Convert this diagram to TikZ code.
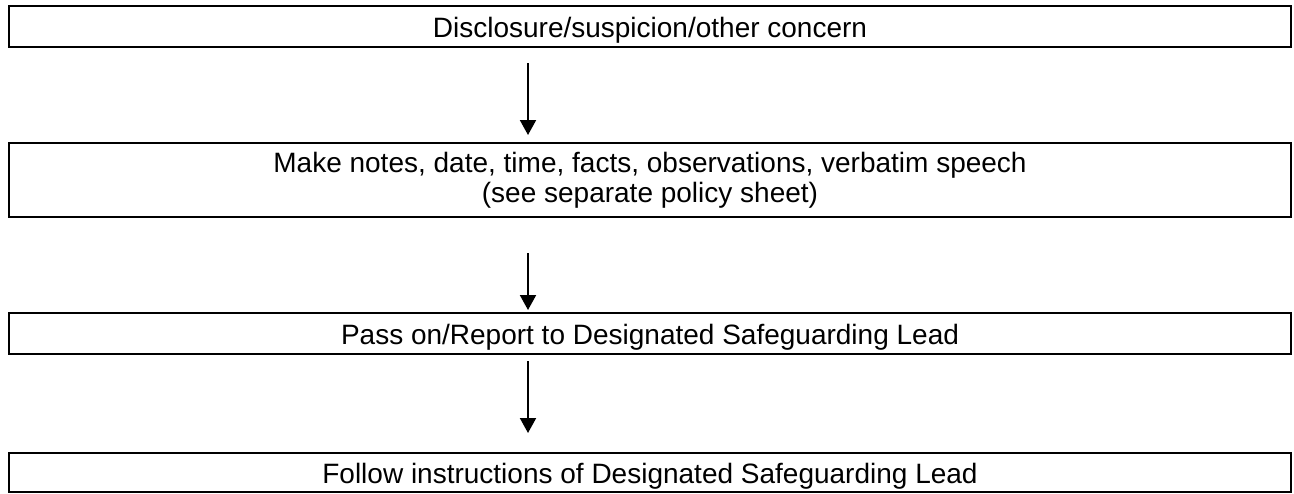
\documentclass[tikz,border=0pt]{standalone}
\usepackage{fontspec}
\setmainfont{Liberation Sans}
\usetikzlibrary{arrows.meta,shadows}
\begin{document}
\begin{tikzpicture}[x=1pt,y=1pt,
  flowbox/.style={draw=black, line width=2pt, fill=white, minimum width=1282pt,
    inner sep=0pt, align=center, font=\fontsize{28}{30}\selectfont,
    drop shadow={shadow xshift=1.2pt, shadow yshift=-1.2pt, opacity=1, fill=black}},
  oneline/.style={text height=23pt, text depth=2pt},
  arr/.style={line width=2pt, -{Triangle[length=15pt,width=16pt]}}]
\useasboundingbox (0,0) rectangle (1294,-493);
\node[flowbox, oneline, minimum height=41pt] (b1) at (650,-26.5) {Disclosure/suspicion/other concern};
\node[flowbox, minimum height=74pt] (b2) at (650,-180) {Make notes, date, time, facts, observations, verbatim speech\\(see separate policy sheet)};
\node[flowbox, oneline, minimum height=41pt] (b3) at (650,-333.5) {Pass on/Report to Designated Safeguarding Lead};
\node[flowbox, oneline, minimum height=39pt] (b4) at (650,-472.5) {Follow instructions of Designated Safeguarding Lead};
\coordinate (ax) at (528,0);
\draw[arr, shorten <=15pt, shorten >=7pt] (b1.south -| ax) -- (b2.north -| ax);
\draw[arr, shorten <=35pt, shorten >=2pt] (b2.south -| ax) -- (b3.north -| ax);
\draw[arr, shorten <=6pt, shorten >=19pt] (b3.south -| ax) -- (b4.north -| ax);
\end{tikzpicture}
\end{document}
